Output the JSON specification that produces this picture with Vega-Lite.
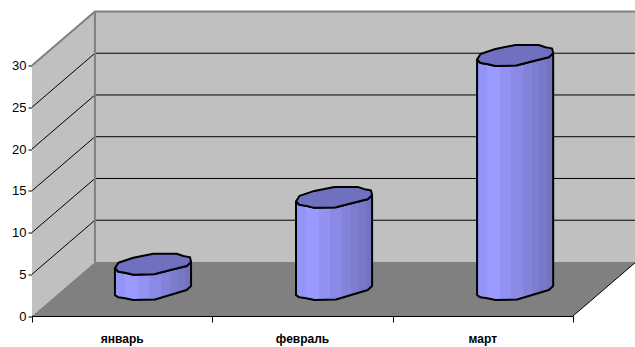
{
"$schema":"https://vega.github.io/schema/vega-lite/v6.json",
"width":541,"height":250.5,"autosize":"none",
"padding":{"left":32,"top":65.5,"right":62,"bottom":31},
"background":"#ffffff",
"config":{"view":{"stroke":null},"axis":{"grid":false,"title":null,"labelFont":"Liberation Sans","labelColor":"#000000","tickColor":"#000000","domainColor":"#000000","zindex":1}},
"datasets":{
"cap":[
{"month":"январь","x":0.460,"top":5.71,"low":5.71},{"month":"январь","x":0.479,"top":6.38,"low":5.31},{"month":"январь","x":0.516,"top":6.65,"low":5.19},{"month":"январь","x":0.562,"top":6.98,"low":4.95},{"month":"январь","x":0.673,"top":7.46,"low":4.99},{"month":"январь","x":0.682,"top":7.46,"low":5.03},{"month":"январь","x":0.784,"top":7.46,"low":5.59},{"month":"январь","x":0.802,"top":7.46,"low":5.69},{"month":"январь","x":0.839,"top":7.19,"low":5.89},{"month":"январь","x":0.858,"top":7.11,"low":5.99},{"month":"январь","x":0.876,"top":7.03,"low":6.35},{"month":"январь","x":0.882,"top":6.50,"low":6.50},
{"month":"февраль","x":1.464,"top":13.71,"low":13.71},{"month":"февраль","x":1.483,"top":14.38,"low":13.31},{"month":"февраль","x":1.520,"top":14.65,"low":13.19},{"month":"февраль","x":1.566,"top":14.98,"low":12.95},{"month":"февраль","x":1.677,"top":15.46,"low":12.99},{"month":"февраль","x":1.686,"top":15.46,"low":13.03},{"month":"февраль","x":1.788,"top":15.46,"low":13.59},{"month":"февраль","x":1.806,"top":15.46,"low":13.69},{"month":"февраль","x":1.843,"top":15.19,"low":13.89},{"month":"февраль","x":1.862,"top":15.11,"low":13.99},{"month":"февраль","x":1.880,"top":15.03,"low":14.35},{"month":"февраль","x":1.886,"top":14.50,"low":14.50},
{"month":"март","x":2.468,"top":30.71,"low":30.71},{"month":"март","x":2.487,"top":31.38,"low":30.31},{"month":"март","x":2.524,"top":31.65,"low":30.19},{"month":"март","x":2.570,"top":31.98,"low":29.95},{"month":"март","x":2.681,"top":32.46,"low":29.99},{"month":"март","x":2.690,"top":32.46,"low":30.03},{"month":"март","x":2.792,"top":32.46,"low":30.59},{"month":"март","x":2.810,"top":32.46,"low":30.69},{"month":"март","x":2.847,"top":32.19,"low":30.89},{"month":"март","x":2.866,"top":32.11,"low":30.99},{"month":"март","x":2.884,"top":32.03,"low":31.35},{"month":"март","x":2.890,"top":31.50,"low":31.50}
],
"body":[
{"month":"январь","value":3,"x":0.460,"top":5.71,"base":2.51},{"month":"январь","value":3,"x":0.479,"top":5.31,"base":2.24},{"month":"январь","value":3,"x":0.516,"top":5.19,"base":2.12},{"month":"январь","value":3,"x":0.562,"top":4.95,"base":1.92},{"month":"январь","value":3,"x":0.682,"top":5.03,"base":1.98},{"month":"январь","value":3,"x":0.784,"top":5.59,"base":2.63},{"month":"январь","value":3,"x":0.858,"top":5.99,"base":3.11},{"month":"январь","value":3,"x":0.882,"top":6.50,"base":3.59},
{"month":"февраль","value":11,"x":1.464,"top":13.71,"base":2.51},{"month":"февраль","value":11,"x":1.483,"top":13.31,"base":2.24},{"month":"февраль","value":11,"x":1.520,"top":13.19,"base":2.12},{"month":"февраль","value":11,"x":1.566,"top":12.95,"base":1.92},{"month":"февраль","value":11,"x":1.686,"top":13.03,"base":1.98},{"month":"февраль","value":11,"x":1.788,"top":13.59,"base":2.63},{"month":"февраль","value":11,"x":1.862,"top":13.99,"base":3.11},{"month":"февраль","value":11,"x":1.886,"top":14.50,"base":3.59},
{"month":"март","value":28,"x":2.468,"top":30.71,"base":2.51},{"month":"март","value":28,"x":2.487,"top":30.31,"base":2.24},{"month":"март","value":28,"x":2.524,"top":30.19,"base":2.12},{"month":"март","value":28,"x":2.570,"top":29.95,"base":1.92},{"month":"март","value":28,"x":2.690,"top":30.03,"base":1.98},{"month":"март","value":28,"x":2.792,"top":30.59,"base":2.63},{"month":"март","value":28,"x":2.866,"top":30.99,"base":3.11},{"month":"март","value":28,"x":2.890,"top":31.50,"base":3.59}
]
},
"layer":[
{"data":{"values":[{"x":0.349,"x2":3.349,"y":6.47,"y2":36.47}]},
 "mark":{"type":"rect","fill":"#c0c0c0"},
 "encoding":{"x":{"field":"x","type":"quantitative","scale":{"domain":[0,3],"nice":false,"zero":false},"axis":{"values":[0,1,2,3],"labels":false,"tickSize":6,"tickWidth":1,"domainWidth":1}},"x2":{"field":"x2"},
 "y":{"field":"y","type":"quantitative","scale":{"domain":[0,30],"nice":false},"axis":{"values":[0,5,10,15,20,25,30],"labelFontSize":13,"tickSize":4,"labelPadding":2,"domainWidth":1}},"y2":{"field":"y2"}}},
{"data":{"values":[{"x":0,"y":0,"y2":30},{"x":0.349,"y":6.47,"y2":36.47}]},
 "mark":{"type":"area","fill":"#c0c0c0","interpolate":"linear"},
 "encoding":{"x":{"field":"x","type":"quantitative"},"y":{"field":"y","type":"quantitative","stack":null},"y2":{"field":"y2"}}},
{"data":{"values":[{"x":0,"y":0,"y2":0},{"x":0.349,"y":0,"y2":6.47},{"x":3,"y":0,"y2":6.47},{"x":3.349,"y":6.47,"y2":6.47}]},
 "mark":{"type":"area","fill":"#808080","interpolate":"linear"},
 "encoding":{"x":{"field":"x","type":"quantitative"},"y":{"field":"y","type":"quantitative","stack":null},"y2":{"field":"y2"}}},
{"data":{"values":[
 {"level":5,"x":0,"y":5},{"level":5,"x":0.349,"y":11.47},{"level":5,"x":3.349,"y":11.47},
 {"level":10,"x":0,"y":10},{"level":10,"x":0.349,"y":16.47},{"level":10,"x":3.349,"y":16.47},
 {"level":15,"x":0,"y":15},{"level":15,"x":0.349,"y":21.47},{"level":15,"x":3.349,"y":21.47},
 {"level":20,"x":0,"y":20},{"level":20,"x":0.349,"y":26.47},{"level":20,"x":3.349,"y":26.47},
 {"level":25,"x":0,"y":25},{"level":25,"x":0.349,"y":31.47},{"level":25,"x":3.349,"y":31.47}]},
 "mark":{"type":"line","color":"#000000","strokeWidth":1},
 "encoding":{"x":{"field":"x","type":"quantitative"},"y":{"field":"y","type":"quantitative"},"detail":{"field":"level"}}},
{"data":{"values":[
 {"edge":"top","x":0,"y":30},{"edge":"top","x":0.349,"y":36.47},{"edge":"top","x":3.349,"y":36.47},
 {"edge":"corner","x":0.349,"y":6.47},{"edge":"corner","x":0.349,"y":36.47}]},
 "mark":{"type":"line","color":"#808080","strokeWidth":2},
 "encoding":{"x":{"field":"x","type":"quantitative"},"y":{"field":"y","type":"quantitative"},"detail":{"field":"edge"}}},
{"data":{"values":[{"x":3,"y":0},{"x":3.349,"y":6.47}]},
 "mark":{"type":"line","color":"#000000","strokeWidth":1},
 "encoding":{"x":{"field":"x","type":"quantitative"},"y":{"field":"y","type":"quantitative"}}},
{"data":{"name":"body"},
 "mark":{"type":"area","interpolate":"linear","stroke":"#000000","strokeWidth":2,"strokeJoin":"round",
  "fill":{"gradient":"linear","x1":0,"y1":0,"x2":1,"y2":0,"stops":[
   {"offset":0,"color":"#9494f7"},{"offset":0.13,"color":"#9494f7"},{"offset":0.13,"color":"#9999ff"},{"offset":0.3,"color":"#9999ff"},
   {"offset":0.3,"color":"#9292f3"},{"offset":0.45,"color":"#9292f3"},{"offset":0.45,"color":"#8a8ae6"},{"offset":0.6,"color":"#8a8ae6"},
   {"offset":0.6,"color":"#8383da"},{"offset":0.72,"color":"#8383da"},{"offset":0.72,"color":"#7d7dd0"},{"offset":0.82,"color":"#7d7dd0"},
   {"offset":0.82,"color":"#7878c8"},{"offset":0.92,"color":"#7878c8"},{"offset":0.92,"color":"#7272bf"},{"offset":1,"color":"#7272bf"}]}},
 "encoding":{"x":{"field":"x","type":"quantitative"},"y":{"field":"top","type":"quantitative","stack":null},"y2":{"field":"base"},"detail":{"field":"month"}}},
{"data":{"name":"cap"},
 "mark":{"type":"area","interpolate":"linear","fill":"#7070c0","stroke":"#000000","strokeWidth":2,"strokeJoin":"round"},
 "encoding":{"x":{"field":"x","type":"quantitative"},"y":{"field":"top","type":"quantitative","stack":null},"y2":{"field":"low"},"detail":{"field":"month"}}},
{"data":{"values":[{"month":"январь","x":0.5},{"month":"февраль","x":1.5},{"month":"март","x":2.5}]},
 "mark":{"type":"text","font":"Liberation Sans","fontWeight":"bold","fontSize":12,"color":"#000000","dy":23},
 "encoding":{"x":{"field":"x","type":"quantitative"},"y":{"datum":0},"text":{"field":"month"}}}
]
}
